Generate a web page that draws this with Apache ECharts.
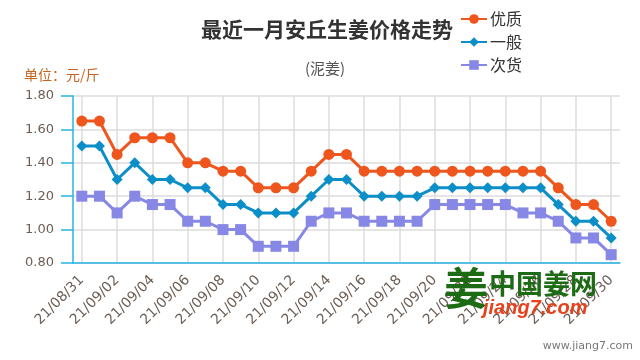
<!DOCTYPE html>
<html><head><meta charset="utf-8">
<script src="https://cdn.jsdelivr.net/npm/echarts@6/dist/echarts.min.js"></script>
<style>html,body{margin:0;padding:0;background:#fff}#c{width:640px;height:360px}</style>
</head><body><div id="c"></div>
<script>
const dates = ['21/08/31','21/09/01','21/09/02','21/09/03','21/09/04','21/09/05','21/09/06','21/09/07','21/09/08','21/09/09','21/09/10','21/09/11','21/09/12','21/09/13','21/09/14','21/09/15','21/09/16','21/09/17','21/09/18','21/09/19','21/09/20','21/09/21','21/09/22','21/09/23','21/09/24','21/09/25','21/09/26','21/09/27','21/09/28','21/09/29','21/09/30'];
const youzhi = [1.65,1.65,1.45,1.55,1.55,1.55,1.40,1.40,1.35,1.35,1.25,1.25,1.25,1.35,1.45,1.45,1.35,1.35,1.35,1.35,1.35,1.35,1.35,1.35,1.35,1.35,1.35,1.25,1.15,1.15,1.05];
const yiban = [1.50,1.50,1.30,1.40,1.30,1.30,1.25,1.25,1.15,1.15,1.10,1.10,1.10,1.20,1.30,1.30,1.20,1.20,1.20,1.20,1.25,1.25,1.25,1.25,1.25,1.25,1.25,1.15,1.05,1.05,0.95];
const cihuo = [1.20,1.20,1.10,1.20,1.15,1.15,1.05,1.05,1.00,1.00,0.90,0.90,0.90,1.05,1.10,1.10,1.05,1.05,1.05,1.05,1.15,1.15,1.15,1.15,1.15,1.10,1.10,1.05,0.95,0.95,0.85];
const seriesNames = ['优质','一般','次货'];
const chart = echarts.init(document.getElementById('c'));
const font = '"DejaVu Sans", "Noto Sans CJK SC", sans-serif';
const cjk = '"Noto Sans CJK SC", sans-serif';
chart.setOption({
  animation: false,
  backgroundColor: '#fff',
  title: [
    {text: '最近一月安丘生姜价格走势', left: 196, top: 14, textStyle: {fontSize: 21, fontWeight: 'bold', color: '#333', fontFamily: cjk}},
    {text: '(泥姜)', left: 300, top: 56, textStyle: {fontSize: 15, fontWeight: 'normal', color: '#555', fontFamily: cjk}},
    {text: '单位：元/斤', left: 19, top: 63, textStyle: {fontSize: 14, fontWeight: 'normal', color: '#c8641e', fontFamily: cjk}}
  ],
  legend: {
    orient: 'vertical', left: 455, top: 6, itemWidth: 26, itemHeight: 12, itemGap: 7, padding: 5,
    textStyle: {fontSize: 16, color: '#333', fontFamily: cjk, padding: [0, 0, 0, -2]},
    data: seriesNames
  },
  grid: {left: 73, right: 20, top: 96, bottom: 97, containLabel: false},
  xAxis: {
    type: 'category', data: dates, boundaryGap: true,
    axisLine: {lineStyle: {color: '#29b3e3', width: 1.5}},
    axisTick: {alignWithLabel: true, interval: 1, length: 12, lineStyle: {color: '#29b3e3', width: 1.5}},
    axisLabel: {interval: 1, rotate: 45, margin: 15, fontSize: 14, color: '#6b5e55', fontFamily: font},
    splitLine: {show: true, interval: 1, alignWithLabel: true, lineStyle: {color: '#dcdcdc', width: 1.5}}
  },
  yAxis: {
    type: 'value', min: 0.8, max: 1.8, interval: 0.2,
    axisLine: {show: true, lineStyle: {color: '#29b3e3', width: 1.5}},
    axisTick: {show: true, length: 12, lineStyle: {color: '#29b3e3', width: 1.5}},
    axisLabel: {margin: 19, fontSize: 13, color: '#6b5e55', fontFamily: font, formatter: v => v.toFixed(2)},
    splitLine: {show: true, lineStyle: {color: '#dcdcdc', width: 1.5}}
  },
  series: [
    {name: seriesNames[0], type: 'line', data: youzhi, symbol: 'circle', symbolSize: 11, color: '#ee561e', lineStyle: {width: 3}},
    {name: seriesNames[1], type: 'line', data: yiban, symbol: 'diamond', symbolSize: 11, color: '#0c8ec8', lineStyle: {width: 3}},
    {name: seriesNames[2], type: 'line', data: cihuo, symbol: 'rect', symbolSize: 11, color: '#8787e6', lineStyle: {width: 3}}
  ],
  graphic: [
    {type: 'text', left: 444, top: 266, style: {text: '姜', fontSize: 44, fontWeight: 'bold', fill: '#1d6b14', fontFamily: cjk}, z: 100},
    {type: 'text', left: 489, top: 270, style: {text: '中国姜网', fontSize: 27, fontWeight: 'bold', fill: '#1d6b14', fontFamily: cjk}, z: 100},
    {type: 'text', left: 483, top: 298, style: {text: 'jiang7.com', fontSize: 20, fontWeight: 'bold', fontStyle: 'italic', fill: '#e8421c', fontFamily: '"Liberation Sans", sans-serif'}, z: 100},
    {type: 'text', right: 7, top: 341, style: {text: 'www.jiang7.com', fontSize: 11, fill: '#777', fontFamily: font}}
  ]
});
</script></body></html>
